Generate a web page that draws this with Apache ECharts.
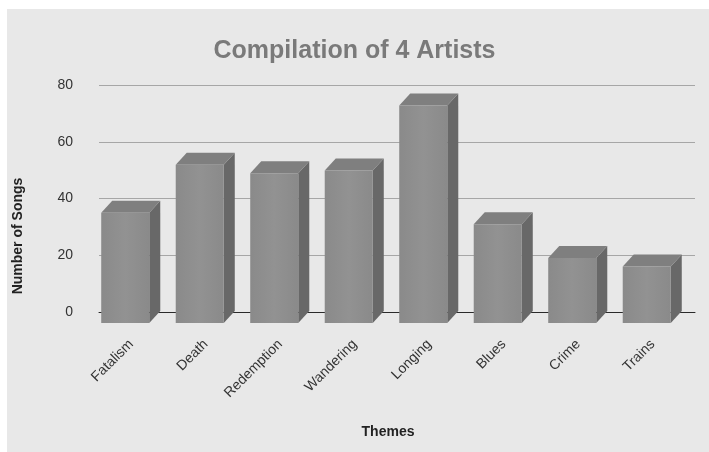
<!DOCTYPE html>
<html>
<head>
<meta charset="utf-8">
<title>Compilation of 4 Artists</title>
<script src="https://cdn.jsdelivr.net/npm/echarts@6/dist/echarts.min.js"></script>
<style>
  html, body { margin: 0; padding: 0; background: #ffffff; }
  #chart { width: 709px; height: 452px; }
</style>
</head>
<body>
<div id="chart"></div>
<script>
// Song counts per theme across the four artists
const themes = ['Fatalism', 'Death', 'Redemption', 'Wandering', 'Longing', 'Blues', 'Crime', 'Trains'];
const songs = [39, 56, 53, 54, 77, 35, 23, 20];
const yTicks = { min: 0, max: 80, interval: 20 };

const FONT = '"Liberation Sans", Arial, sans-serif';
const DEPTH_X = 11;
const DEPTH_Y = 12;

// Boxy column: front face, top face and right side face
function renderColumn(params, api) {
  const i = api.value(0);
  const v = api.value(1);
  const base = api.coord([i, 0]);
  const top = api.coord([i, v]);
  const band = api.size([1, 0])[0];
  const w = band * 0.645;
  const x1 = base[0] - w / 2;
  const x2 = base[0] + w / 2;
  const yb = base[1];
  const yt = top[1];
  return {
    type: 'group',
    children: [
      {
        type: 'polygon',
        shape: { points: [[x2, yt], [x2 + DEPTH_X, yt - DEPTH_Y], [x2 + DEPTH_X, yb - DEPTH_Y], [x2, yb]] },
        style: { fill: '#686868' }
      },
      {
        type: 'polygon',
        shape: { points: [[x1, yt], [x2, yt], [x2 + DEPTH_X, yt - DEPTH_Y], [x1 + DEPTH_X, yt - DEPTH_Y]] },
        style: { fill: '#7f7f7f' }
      },
      {
        type: 'rect',
        shape: { x: x1, y: yt, width: w, height: yb - yt },
        style: {
          fill: {
            type: 'linear', x: 0, y: 0, x2: 1, y2: 0,
            colorStops: [
              { offset: 0, color: '#8a8a8a' },
              { offset: 0.5, color: '#929292' },
              { offset: 1, color: '#8a8a8a' }
            ]
          }
        }
      }
    ]
  };
}

const chart = echarts.init(document.getElementById('chart'), null, { renderer: 'canvas' });

chart.setOption({
  animation: false,
  backgroundColor: '#ffffff',
  title: {
    text: 'Compilation of 4 Artists',
    left: 'center',
    top: 34,
    textStyle: { fontFamily: FONT, fontSize: 25, fontWeight: 'bold', color: '#7a7a7a' }
  },
  graphic: [
    {
      type: 'rect', z: -10, silent: true,
      shape: { x: 7, y: 9, width: 702, height: 443 },
      style: { fill: '#e8e8e8' }
    },
    {
      type: 'text', silent: true,
      x: 18, y: 236, rotation: Math.PI / 2,
      style: {
        text: 'Number of Songs', fontFamily: FONT, fontSize: 14, fontWeight: 'bold',
        fill: '#222222', align: 'center', verticalAlign: 'middle'
      }
    },
    {
      type: 'text', silent: true,
      x: 388, y: 432,
      style: {
        text: 'Themes', fontFamily: FONT, fontSize: 14, fontWeight: 'bold',
        fill: '#222222', align: 'center', verticalAlign: 'middle'
      }
    }
  ],
  grid: [
    // back wall carrying the gridlines and value labels
    { left: 99, right: 14, top: 85, bottom: 140 },
    // front plane carrying the columns
    { left: 88, right: 25, top: 97, bottom: 129 },
    // category labels, centred under the floor of each column
    { left: 94, right: 19, top: 97, bottom: 129 }
  ],
  xAxis: [
    {
      type: 'category', gridIndex: 0, data: themes,
      axisLine: { show: true, lineStyle: { color: '#2a2a2a', width: 1 } },
      axisTick: { show: false },
      axisLabel: { show: false }
    },
    {
      type: 'category', gridIndex: 1, data: themes,
      axisLine: { show: false },
      axisTick: { show: false },
      axisLabel: { show: false }
    },
    {
      type: 'category', gridIndex: 2, data: themes,
      axisLine: { show: false },
      axisTick: { show: false },
      axisLabel: {
        rotate: 45, margin: 19, interval: 0,
        fontFamily: FONT, fontSize: 14, color: '#333333'
      }
    }
  ],
  yAxis: [
    {
      type: 'value', gridIndex: 0,
      min: yTicks.min, max: yTicks.max, interval: yTicks.interval,
      axisLine: { show: false },
      axisTick: { show: false },
      axisLabel: { margin: 26, fontFamily: FONT, fontSize: 14, color: '#333333' },
      splitLine: { show: true, lineStyle: { color: '#a6a6a6', width: 1 } }
    },
    {
      type: 'value', gridIndex: 1,
      min: yTicks.min, max: yTicks.max, interval: yTicks.interval,
      show: false
    },
    {
      type: 'value', gridIndex: 2,
      min: yTicks.min, max: yTicks.max, interval: yTicks.interval,
      show: false
    }
  ],
  series: [
    {
      type: 'custom',
      name: 'Number of Songs',
      xAxisIndex: 1,
      yAxisIndex: 1,
      renderItem: renderColumn,
      encode: { x: 0, y: 1 },
      data: themes.map((t, i) => [i, songs[i]]),
      z: 5
    }
  ]
});
</script>
</body>
</html>
